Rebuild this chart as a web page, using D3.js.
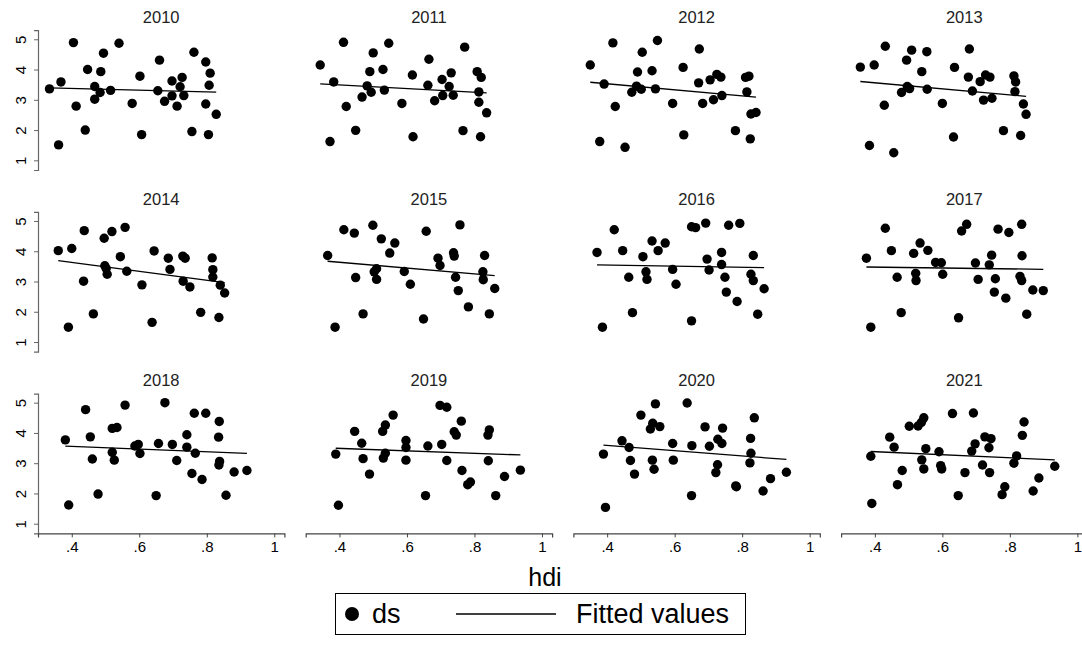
<!DOCTYPE html>
<html>
<head>
<meta charset="utf-8">
<script src="https://cdn.jsdelivr.net/npm/d3@7"></script>
<style>
  body { margin: 0; background: #fff; }
  text { font-family: "Liberation Sans", Arial, sans-serif; fill: #000; font-weight: 400; }
</style>
</head>
<body>
<script>
// years shown, one panel each
const years = [2010, 2011, 2012, 2013, 2014, 2015, 2016, 2017, 2018, 2019, 2020, 2021];
const xTicks = [0.4, 0.6, 0.8, 1];
const xTickLabels = [".4", ".6", ".8", "1"];
const yTicks = [1, 2, 3, 4, 5];

// hdi / ds per year
const hdi2010 = [0.334,0.368,0.361,0.405,0.413,0.440,0.447,0.468,0.468,0.484,0.486,0.494,0.515,0.540,0.579,0.602,0.607,0.660,0.655,0.675,0.697,0.697,0.712,0.721,0.727,0.732,0.756,0.762,0.797,0.810,0.807,0.797,0.805,0.828];
const ds2010  = [3.36,3.59,1.51,4.89,2.79,2.00,4.00,3.44,3.02,3.24,3.93,4.54,3.31,4.87,2.88,3.78,1.85,4.31,3.30,2.95,3.62,3.13,2.79,3.43,3.74,3.14,1.95,4.57,4.25,3.88,3.48,2.86,1.85,2.52];

const hdi2011 = [0.343,0.383,0.372,0.412,0.420,0.448,0.467,0.482,0.490,0.494,0.500,0.529,0.533,0.546,0.585,0.616,0.618,0.662,0.665,0.682,0.704,0.706,0.725,0.731,0.737,0.771,0.766,0.808,0.820,0.813,0.813,0.818,0.836];
const ds2011  = [4.15,3.59,1.62,4.90,2.78,1.99,3.09,3.46,3.93,3.25,4.55,4.00,3.32,4.87,2.88,3.82,1.78,3.48,4.34,2.97,3.67,3.14,3.44,3.89,3.15,4.74,1.98,3.93,3.74,3.26,2.92,1.78,2.57];

const hdi2012 = [0.350,0.391,0.378,0.417,0.424,0.453,0.473,0.487,0.490,0.501,0.504,0.533,0.543,0.549,0.594,0.625,0.627,0.671,0.673,0.683,0.705,0.715,0.725,0.737,0.740,0.780,0.810,0.820,0.814,0.826,0.841,0.824];
const ds2012  = [4.15,3.52,1.62,4.88,2.78,1.43,3.25,3.45,3.92,3.35,4.57,3.96,3.36,4.96,2.88,4.07,1.84,3.56,4.68,2.88,3.66,3.00,3.84,3.75,3.14,1.98,3.74,3.78,3.26,2.53,2.58,1.71];

const hdi2013 = [0.357,0.398,0.384,0.431,0.428,0.456,0.479,0.494,0.496,0.503,0.509,0.539,0.554,0.555,0.600,0.633,0.636,0.677,0.680,0.689,0.712,0.722,0.728,0.741,0.747,0.781,0.812,0.817,0.815,0.840,0.848,0.832];
const ds2013  = [4.08,4.15,1.49,4.77,2.82,1.25,3.24,4.31,3.44,3.37,4.64,3.93,4.59,3.35,2.88,1.77,4.07,3.75,4.68,3.29,3.60,2.99,3.82,3.75,3.05,1.98,3.79,3.59,3.27,2.86,2.52,1.82];

const hdi2014 = [0.360,0.400,0.390,0.437,0.435,0.464,0.496,0.498,0.502,0.505,0.519,0.544,0.558,0.563,0.608,0.638,0.644,0.686,0.691,0.729,0.736,0.730,0.750,0.782,0.816,0.818,0.818,0.840,0.853,0.836];
const ds2014  = [4.02,4.09,1.49,4.68,3.01,1.93,4.43,3.52,3.43,3.24,4.65,3.82,4.79,3.34,2.89,1.65,4.01,3.77,3.40,3.84,3.77,3.01,2.82,1.98,3.78,3.39,3.15,2.88,2.62,1.81];

const hdi2015 = [0.365,0.387,0.413,0.444,0.448,0.470,0.499,0.503,0.510,0.510,0.524,0.549,0.564,0.592,0.610,0.649,0.657,0.692,0.698,0.738,0.740,0.744,0.757,0.752,0.782,0.825,0.830,0.826,0.844,0.860];
const ds2015  = [3.86,1.49,4.71,4.60,3.13,1.93,4.86,3.32,3.42,3.07,4.41,3.94,4.27,3.33,2.91,1.76,4.66,3.77,3.53,3.95,3.84,3.14,4.87,2.70,2.16,3.32,3.86,3.06,1.93,2.77];

const hdi2016 = [0.370,0.386,0.421,0.446,0.464,0.475,0.506,0.515,0.518,0.533,0.551,0.572,0.594,0.604,0.650,0.650,0.662,0.692,0.696,0.702,0.739,0.739,0.749,0.753,0.760,0.785,0.793,0.833,0.826,0.833,0.846,0.865];
const ds2016  = [3.96,1.49,4.71,4.02,3.14,1.97,3.82,3.32,3.07,4.34,4.02,4.27,3.40,2.91,1.70,4.81,4.78,4.93,3.74,3.38,3.96,3.56,3.14,2.65,4.86,2.34,4.92,3.86,3.24,3.03,1.92,2.76];

const hdi2017 = [0.375,0.388,0.431,0.449,0.466,0.478,0.515,0.521,0.522,0.534,0.557,0.580,0.597,0.601,0.648,0.657,0.672,0.698,0.706,0.739,0.746,0.754,0.757,0.765,0.788,0.797,0.830,0.835,0.835,0.836,0.850,0.868,0.899];
const ds2017  = [3.77,1.49,4.76,4.02,3.14,1.97,3.93,3.27,3.03,4.27,4.03,3.63,3.62,3.24,1.80,4.67,4.89,3.61,3.07,3.55,3.87,2.65,3.09,4.73,2.45,4.62,3.17,3.03,4.89,3.85,1.92,2.72,2.70];

const hdi2018 = [0.381,0.391,0.441,0.455,0.461,0.478,0.520,0.520,0.534,0.526,0.558,0.587,0.597,0.602,0.650,0.657,0.676,0.698,0.711,0.741,0.741,0.756,0.763,0.766,0.786,0.797,0.837,0.835,0.838,0.836,0.857,0.881,0.919];
const ds2018  = [3.77,1.62,4.77,3.87,3.14,1.98,3.36,4.15,4.18,3.10,4.92,3.57,3.62,3.32,1.93,3.65,5.00,3.62,3.09,3.94,3.53,2.66,4.65,3.33,2.46,4.65,4.38,3.86,3.06,2.94,1.94,2.71,2.76];

const hdi2019 = [0.389,0.397,0.445,0.466,0.470,0.489,0.528,0.536,0.536,0.530,0.559,0.597,0.597,0.597,0.655,0.662,0.698,0.718,0.703,0.718,0.740,0.746,0.761,0.763,0.780,0.788,0.840,0.844,0.841,0.863,0.889,0.936];
const ds2019  = [3.30,1.61,4.05,3.66,3.15,2.64,4.05,4.26,3.33,3.17,4.59,3.75,3.52,3.10,1.93,3.57,4.91,4.85,3.62,3.09,4.04,3.93,4.39,2.76,2.29,2.38,3.93,4.10,3.08,1.93,2.56,2.77];

const hdi2020 = [0.389,0.395,0.444,0.465,0.469,0.481,0.500,0.528,0.535,0.534,0.539,0.543,0.556,0.594,0.596,0.637,0.650,0.651,0.690,0.703,0.727,0.722,0.728,0.740,0.742,0.781,0.783,0.825,0.826,0.823,0.836,0.862,0.884,0.931];
const ds2020  = [3.30,1.54,3.74,3.52,3.09,2.64,4.59,4.13,4.32,3.10,2.80,4.96,4.21,3.65,3.10,4.99,1.93,3.58,4.20,3.56,2.95,2.69,3.79,3.65,4.16,2.25,2.22,3.82,3.33,3.01,4.50,2.08,2.49,2.70];

const hdi2021 = [0.388,0.391,0.444,0.457,0.467,0.481,0.502,0.528,0.538,0.545,0.539,0.545,0.551,0.590,0.595,0.598,0.630,0.647,0.667,0.687,0.692,0.697,0.719,0.726,0.744,0.738,0.740,0.777,0.785,0.812,0.820,0.837,0.842,0.869,0.886,0.933];
const ds2021  = [3.23,1.67,3.86,3.53,2.29,2.76,4.22,4.23,4.35,4.50,3.11,2.81,3.48,3.38,2.92,2.81,4.64,1.93,2.69,3.40,4.66,3.64,2.94,3.87,3.81,3.51,2.69,1.96,2.22,3.00,3.24,3.92,4.36,2.08,2.51,2.90];

const hdiByYear = [hdi2010,hdi2011,hdi2012,hdi2013,hdi2014,hdi2015,hdi2016,hdi2017,hdi2018,hdi2019,hdi2020,hdi2021];
const dsByYear  = [ds2010,ds2011,ds2012,ds2013,ds2014,ds2015,ds2016,ds2017,ds2018,ds2019,ds2020,ds2021];

const width = 1082;
const height = 652;
const colStep = 267.7;
const rowStep = 181.7;
const cols = 4;
const fontFam = "Liberation Sans, Arial, sans-serif";

const svg = d3.select("body")
  .append("svg")
  .attr("width", width)
  .attr("height", height);

// shared scales, panels are shifted with a transform
const x = d3.scaleLinear().domain([0.3, 1.03]).range([38, 284.4]);
const y = d3.scaleLinear().domain([0.68, 5.3]).range([170, 30.2]);

// plain least squares for the fitted line
function fit(xs, ys) {
  const mx = d3.mean(xs), my = d3.mean(ys);
  const sxy = d3.sum(xs, (v, i) => (v - mx) * (ys[i] - my));
  const sxx = d3.sum(xs, (v) => (v - mx) * (v - mx));
  const b = sxy / sxx;
  return (v) => my + b * (v - mx);
}

years.forEach((yr, i) => {
  const col = i % cols;
  const row = Math.floor(i / cols);
  const g = svg.append("g")
    .attr("transform", `translate(${col * colStep},${row * rowStep})`);

  const xs = hdiByYear[i];
  const ys = dsByYear[i];

  g.append("text")
    .attr("x", (x.range()[0] + x.range()[1]) / 2)
    .attr("y", 23)
    .attr("text-anchor", "middle")
    .style("font-size", "16.5px")
    .style("fill", "#222")
    .text(yr);

  // y axis on the first column only
  if (col === 0) {
    const ya = g.append("g")
      .attr("transform", `translate(${x.range()[0]},0)`)
      .call(d3.axisLeft(y).tickValues(yTicks).tickFormat(d3.format("d"))
        .tickSize(4).tickPadding(6));
    ya.select(".domain").attr("stroke", "#666").attr("stroke-width", 1.2);
    ya.selectAll(".tick line").attr("stroke", "#666");
    ya.selectAll(".tick text")
      .attr("transform", "rotate(-90)")
      .attr("x", 0)
      .attr("y", -17)
      .attr("dy", "0.35em")
      .attr("text-anchor", "middle")
      .style("font-size", "15px")
      .style("font-family", fontFam);
  }

  // x axis on the last row only
  if (row === 2) {
    const xa = g.append("g")
      .attr("transform", `translate(0,${y.range()[0]})`)
      .call(d3.axisBottom(x).tickValues(xTicks)
        .tickFormat((d, k) => xTickLabels[k]).tickSize(4).tickPadding(4));
    xa.select(".domain").attr("stroke", "#444").attr("stroke-width", 1.2);
    xa.selectAll(".tick line").attr("stroke", "#444");
    xa.selectAll(".tick text")
      .style("font-size", "15px")
      .style("font-family", fontFam);
  }

  g.selectAll("circle")
    .data(xs.map((v, k) => [v, ys[k]]))
    .join("circle")
    .attr("cx", (d) => x(d[0]))
    .attr("cy", (d) => y(d[1]))
    .attr("r", 4.7)
    .attr("fill", "#000");

  const f = fit(xs, ys);
  const ext = d3.extent(xs);
  g.append("line")
    .attr("x1", x(ext[0]))
    .attr("y1", y(f(ext[0])))
    .attr("x2", x(ext[1]))
    .attr("y2", y(f(ext[1])))
    .attr("stroke", "#000")
    .attr("stroke-width", 1.3);
});

// axis title
svg.append("text")
  .attr("x", 545)
  .attr("y", 586)
  .attr("text-anchor", "middle")
  .style("font-size", "25px")
  .text("hdi");

// legend
const legend = svg.append("g");
legend.append("rect")
  .attr("x", 335.5).attr("y", 593.5)
  .attr("width", 410).attr("height", 41)
  .attr("fill", "none").attr("stroke", "#000").attr("stroke-width", 1);
legend.append("circle")
  .attr("cx", 352).attr("cy", 614).attr("r", 7).attr("fill", "#000");
legend.append("text")
  .attr("x", 372).attr("y", 623)
  .style("font-size", "27px").text("ds");
legend.append("line")
  .attr("x1", 456).attr("x2", 556).attr("y1", 614).attr("y2", 614)
  .attr("stroke", "#000").attr("stroke-width", 1.3);
legend.append("text")
  .attr("x", 576).attr("y", 623)
  .style("font-size", "27px").text("Fitted values");
</script>
</body>
</html>
